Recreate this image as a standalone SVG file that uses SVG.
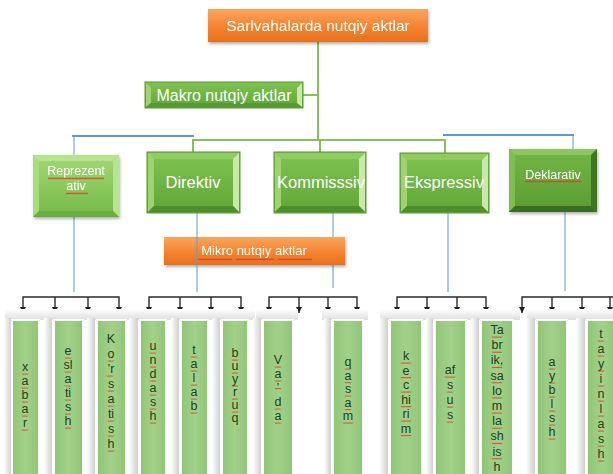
<svg xmlns="http://www.w3.org/2000/svg" width="613" height="474" viewBox="0 0 613 474">
<defs>
  <linearGradient id="gOrange" x1="0" y1="0" x2="0" y2="1">
    <stop offset="0" stop-color="#f9a65e"/>
    <stop offset="0.5" stop-color="#f58634"/>
    <stop offset="1" stop-color="#e8701a"/>
  </linearGradient>
  <linearGradient id="gGreen" x1="0" y1="0" x2="0" y2="1">
    <stop offset="0" stop-color="#80c352"/>
    <stop offset="1" stop-color="#5fa636"/>
  </linearGradient>
  <linearGradient id="gLight" x1="0" y1="0" x2="0" y2="1">
    <stop offset="0" stop-color="#a3d875"/>
    <stop offset="1" stop-color="#74b948"/>
  </linearGradient>
  <linearGradient id="gDark" x1="0" y1="0" x2="0" y2="1">
    <stop offset="0" stop-color="#74b646"/>
    <stop offset="1" stop-color="#5a9c32"/>
  </linearGradient>
  <linearGradient id="gCol" x1="0" y1="0" x2="1" y2="0">
    <stop offset="0" stop-color="#8fc576"/>
    <stop offset="0.5" stop-color="#a2d18a"/>
    <stop offset="1" stop-color="#8fc576"/>
  </linearGradient>
  <linearGradient id="gStrip" x1="0" y1="0" x2="1" y2="0">
    <stop offset="0" stop-color="#ffffff"/>
    <stop offset="1" stop-color="#cfcfcf"/>
  </linearGradient>
  <linearGradient id="gBand" x1="0" y1="0" x2="0" y2="1">
    <stop offset="0" stop-color="#ffffff"/>
    <stop offset="1" stop-color="#dedede"/>
  </linearGradient>
  <pattern id="wv" width="2" height="3" patternUnits="userSpaceOnUse">
    <path d="M0,2.3 L1,0.7 L2,2.3" stroke="#e0392b" stroke-width="0.8" fill="none"/>
  </pattern>
  <path id="w6" class="sq" d="M0,0 l1,1.2 l1,-1.2 l1,1.2 l1,-1.2 l1,1.2 l1,-1.2"/>
  <path id="w10" class="sq" d="M0,0 l1,1.2 l1,-1.2 l1,1.2 l1,-1.2 l1,1.2 l1,-1.2 l1,1.2 l1,-1.2 l1,1.2 l1,-1.2"/>
  <filter id="sh" x="-20%" y="-20%" width="140%" height="150%">
    <feDropShadow dx="1" dy="2" stdDeviation="1.5" flood-color="#000" flood-opacity="0.3"/>
  </filter>
  <marker id="ar" markerWidth="6" markerHeight="6" refX="6" refY="3" orient="auto-start-reverse" markerUnits="userSpaceOnUse" viewBox="0 0 6 6">
    <path d="M0,0 L6,3 L0,6 z" fill="#222"/>
  </marker>
</defs>
<style>
  .t { font-family: "Liberation Sans", Arial, sans-serif; fill: #fff; text-anchor: middle; }
  .l { font-family: "Liberation Sans", Arial, sans-serif; fill: #23401a; font-size: 12.5px; text-anchor: middle; }
  .sq { stroke: #e0392b; stroke-width: 0.8; fill: none; }
  .wv { fill: url(#wv); }
  .gl { stroke: #86c05a; stroke-width: 2; fill: none; }
  .bl { stroke: #5b9bd5; fill: none; }
  .br { stroke: #2a2a2a; stroke-width: 1.4; fill: none; }
  .col { fill: url(#gCol); stroke: #fff; stroke-width: 2; }
  .strip { fill: url(#gStrip); }
  .band { fill: url(#gBand); }
  .bvT { fill: #8fcb60; }
  .bvL { fill: #9ed36f; }
  .bvR { fill: #c9eaa6; }
  .bvB { fill: #4f8f2b; }
</style>

<g id="connectors">
  <line class="gl" x1="318" y1="42" x2="318" y2="140"/>
  <line class="gl" x1="303" y1="95" x2="318" y2="95"/>
  <polyline class="gl" points="193,152 193,140 445,140 445,153"/>
  <line class="gl" x1="320" y1="140" x2="320" y2="152"/>
  <line class="bl" stroke-width="2" x1="72" y1="136" x2="194" y2="136"/>
  <line class="bl" stroke-width="1" x1="74" y1="136" x2="74" y2="155"/>
  <line class="bl" stroke-width="2" x1="443" y1="135" x2="574" y2="135"/>
  <line class="bl" stroke-width="1" x1="573" y1="135" x2="573" y2="149"/>
  <line class="bl" stroke-width="1" x1="74" y1="217" x2="74" y2="292"/>
  <line class="bl" stroke-width="1" x1="333" y1="213" x2="333" y2="288"/>
  <line class="bl" stroke-width="1" x1="448" y1="213" x2="448" y2="292"/>
  <line class="bl" stroke-width="1" x1="565" y1="212" x2="565" y2="291"/>
  <g id="bracket1">
    <polyline class="br" points="23,313 23,297 119,297 119,313" marker-start="url(#ar)" marker-end="url(#ar)"/>
    <line class="br" x1="55" y1="297" x2="55" y2="313" marker-end="url(#ar)"/>
    <line class="br" x1="88" y1="297" x2="88" y2="313" marker-end="url(#ar)"/>
  </g>
  <g id="bracket2">
    <polyline class="br" points="149,313 149,297 241,297 241,313" marker-start="url(#ar)" marker-end="url(#ar)"/>
    <line class="br" x1="180" y1="297" x2="180" y2="313" marker-end="url(#ar)"/>
    <line class="br" x1="211" y1="297" x2="211" y2="313" marker-end="url(#ar)"/>
  </g>
  <g id="bracket3">
    <polyline class="br" points="269,313 269,297 357,297 357,313" marker-start="url(#ar)" marker-end="url(#ar)"/>
    <line class="br" x1="299" y1="297" x2="299" y2="313" marker-end="url(#ar)"/>
    <line class="br" x1="328" y1="297" x2="328" y2="313" marker-end="url(#ar)"/>
  </g>
  <g id="bracket4">
    <polyline class="br" points="397,313 397,297 486,297 486,313" marker-start="url(#ar)" marker-end="url(#ar)"/>
    <line class="br" x1="427" y1="297" x2="427" y2="313" marker-end="url(#ar)"/>
    <line class="br" x1="457" y1="297" x2="457" y2="313" marker-end="url(#ar)"/>
  </g>
  <g id="bracket5">
    <polyline class="br" points="522,313 522,297 620,297" marker-start="url(#ar)"/>
    <line class="br" x1="552" y1="297" x2="552" y2="313" marker-end="url(#ar)"/>
    <line class="br" x1="582" y1="297" x2="582" y2="313" marker-end="url(#ar)"/>
    <line class="br" x1="610" y1="297" x2="610" y2="313" marker-end="url(#ar)"/>
  </g>
</g>

<g id="sarlvaha" filter="url(#sh)">
  <rect x="208" y="9" width="220" height="33" fill="url(#gOrange)"/>
  <text class="t" x="318" y="31" font-size="15.5">Sarlvahalarda nutqiy aktlar</text>
</g>

<g id="makro">
  <rect x="145" y="82" width="158" height="26" fill="url(#gGreen)" stroke="#5a9436" stroke-width="1"/>
  <polygon class="bvL" points="146,83 151,88 151,103 146,107"/>
  <polygon class="bvR" points="302,83 297,88 297,103 302,107"/>
  <polygon class="bvB" points="146,107 302,107 297,103 151,103" opacity="0.6"/>
  <text class="t" x="224" y="101" font-size="16">Makro nutqiy aktlar</text>
</g>

<g id="reprezentativ" filter="url(#sh)">
  <rect x="33" y="155" width="86" height="62" fill="url(#gLight)"/>
  <polygon points="33,155 119,155 113,161 39,161" fill="#b6e28c"/>
  <polygon points="33,155 39,161 39,211 33,217" fill="#a9dc7c"/>
  <polygon points="119,155 119,217 113,211 113,161" fill="#b8e394"/>
  <polygon points="33,217 119,217 113,211 39,211" fill="#6aad3f"/>
  <text class="t" x="76" y="175" font-size="12.5">Reprezent</text>
  <text class="t" x="76" y="190" font-size="12.5">ativ</text>
  <rect class="wv" x="48" y="177" width="56" height="3"/>
  <rect class="wv" x="66" y="192" width="22" height="3"/>
</g>

<g id="direktiv">
  <rect x="147" y="152" width="93" height="61" fill="url(#gGreen)" stroke="#5a9436"/>
  <polygon class="bvT" points="148,153 239,153 233,159 154,159"/>
  <polygon class="bvL" points="148,153 154,159 154,206 148,212"/>
  <polygon class="bvR" points="239,153 239,212 233,206 233,159"/>
  <polygon class="bvB" points="148,212 239,212 233,206 154,206"/>
  <text class="t" x="193" y="188" font-size="16.5">Direktiv</text>
</g>

<g id="kommisssiv">
  <rect x="274" y="152" width="92" height="61" fill="url(#gGreen)" stroke="#5a9436"/>
  <polygon class="bvT" points="275,153 365,153 359,159 281,159"/>
  <polygon class="bvL" points="275,153 281,159 281,206 275,212"/>
  <polygon class="bvR" points="365,153 365,212 359,206 359,159"/>
  <polygon class="bvB" points="275,212 365,212 359,206 281,206"/>
  <text class="t" x="321" y="188" font-size="16.5">Kommisssiv</text>
</g>

<g id="ekspressiv">
  <rect x="400" y="153" width="89" height="60" fill="url(#gGreen)" stroke="#5a9436"/>
  <polygon class="bvT" points="401,154 488,154 482,160 407,160"/>
  <polygon class="bvL" points="401,154 407,160 407,206 401,212"/>
  <polygon class="bvR" points="488,154 488,212 482,206 482,160"/>
  <polygon class="bvB" points="401,212 488,212 482,206 407,206"/>
  <text class="t" x="444" y="188" font-size="16.5">Ekspressiv</text>
</g>

<g id="deklarativ" filter="url(#sh)">
  <rect x="509" y="149" width="88" height="63" fill="url(#gDark)"/>
  <polygon points="509,149 597,149 591,155 515,155" fill="#8dc65e"/>
  <polygon points="509,149 515,155 515,206 509,212" fill="#7fbd52"/>
  <polygon points="597,149 597,212 591,206 591,155" fill="#3f7425"/>
  <polygon points="509,212 597,212 591,206 515,206" fill="#3b6c22"/>
  <text class="t" x="553" y="179" font-size="12.5">Deklarativ</text>
  <rect class="wv" x="525" y="180" width="57" height="3"/>
</g>

<g id="mikro" filter="url(#sh)">
  <rect x="164" y="237" width="181" height="28" fill="url(#gOrange)"/>
  <text class="t" x="254" y="255" font-size="13">Mikro nutqiy aktlar</text>
  <rect class="wv" x="198" y="258" width="34" height="3"/>
  <rect class="wv" x="236" y="258" width="38" height="3"/>
  <rect class="wv" x="278" y="258" width="34" height="3"/>
</g>
<line class="bl" stroke-width="1" x1="197" y1="213" x2="197" y2="292"/>

<g id="columnsBg">
  <rect class="band" x="5" y="309" width="128" height="11"/>
  <rect class="band" x="133" y="309" width="122" height="11"/>
  <rect class="band" x="256" y="309" width="42" height="11"/>
  <rect class="band" x="322" y="309" width="46" height="11"/>
  <rect class="band" x="380" y="309" width="140" height="11"/>
  <rect class="band" x="527" y="309" width="86" height="11"/>
  <rect class="strip" x="4" y="318" width="7" height="156"/>
  <rect class="strip" x="44" y="318" width="8" height="156"/>
  <rect class="strip" x="87" y="318" width="8" height="156"/>
  <rect class="strip" x="129" y="318" width="9" height="156"/>
  <rect class="strip" x="171" y="318" width="8" height="156"/>
  <rect class="strip" x="212" y="318" width="8" height="156"/>
  <rect class="strip" x="253" y="318" width="8" height="156"/>
  <rect class="strip" x="324" y="318" width="7" height="156"/>
  <rect class="strip" x="379" y="318" width="9" height="156"/>
  <rect class="strip" x="426" y="318" width="7" height="156"/>
  <rect class="strip" x="471" y="318" width="8" height="156"/>
  <rect class="strip" x="526" y="318" width="9" height="156"/>
  <rect class="strip" x="576" y="318" width="9" height="156"/>
</g>

<g id="col-xabar"><rect class="col" x="12" y="320" width="27" height="160"/>
  <text class="l"><tspan x="25" y="371">x</tspan><tspan x="25" dy="14">a</tspan><tspan x="25" dy="14">b</tspan><tspan x="25" dy="14">a</tspan><tspan x="25" dy="14">r</tspan></text>
  <g transform="translate(22,0)"><use href="#w6" y="373.5"/><use href="#w6" y="387.5"/><use href="#w6" y="401.5"/><use href="#w6" y="415.5"/><use href="#w6" y="429.5"/></g></g>
<g id="col-eslatish"><rect class="col" x="54" y="320" width="29" height="160"/>
  <text class="l"><tspan x="68" y="355">e</tspan><tspan x="68" dy="14">sl</tspan><tspan x="68" dy="14">a</tspan><tspan x="68" dy="14">ti</tspan><tspan x="68" dy="14">s</tspan><tspan x="68" dy="14">h</tspan></text>
  <g transform="translate(65,0)"><use href="#w6" y="357.5"/><use href="#w6" y="371.5"/><use href="#w6" y="385.5"/><use href="#w6" y="399.5"/><use href="#w6" y="413.5"/><use href="#w6" y="427.5"/></g></g>
<g id="col-korsatish"><rect class="col" x="97" y="320" width="29" height="160"/>
  <text class="l"><tspan x="111" y="343">K</tspan><tspan x="111" dy="15">o</tspan><tspan x="111" dy="15">’r</tspan><tspan x="111" dy="15">s</tspan><tspan x="111" dy="15">a</tspan><tspan x="111" dy="15">ti</tspan><tspan x="111" dy="15">s</tspan><tspan x="111" dy="15">h</tspan></text>
  <g transform="translate(108,0)"><use href="#w6" y="360.5"/><use href="#w6" x="-1" y="375.5"/><use href="#w6" y="390.5"/><use href="#w6" y="405.5"/><use href="#w6" y="420.5"/><use href="#w6" y="435.5"/><use href="#w6" y="450.5"/></g></g>
<g id="col-undash"><rect class="col" x="140" y="320" width="26" height="160"/>
  <text class="l"><tspan x="153" y="350">u</tspan><tspan x="153" dy="14">n</tspan><tspan x="153" dy="14">d</tspan><tspan x="153" dy="14">a</tspan><tspan x="153" dy="14">s</tspan><tspan x="153" dy="14">h</tspan></text>
  <g transform="translate(150,0)"><use href="#w6" y="352.5"/><use href="#w6" y="366.5"/><use href="#w6" y="380.5"/><use href="#w6" y="394.5"/><use href="#w6" y="408.5"/><use href="#w6" y="422.5"/></g></g>
<g id="col-talab"><rect class="col" x="181" y="320" width="27" height="160"/>
  <text class="l"><tspan x="194" y="354">t</tspan><tspan x="194" dy="14">a</tspan><tspan x="194" dy="14">l</tspan><tspan x="194" dy="14">a</tspan><tspan x="194" dy="14">b</tspan></text>
  <g transform="translate(191,0)"><use href="#w6" y="356.5"/><use href="#w6" y="370.5"/><use href="#w6" y="384.5"/><use href="#w6" y="398.5"/><use href="#w6" y="412.5"/></g></g>
<g id="col-buyruq"><rect class="col" x="222" y="320" width="26" height="160"/>
  <text class="l"><tspan x="235" y="357">b</tspan><tspan x="235" dy="13">u</tspan><tspan x="235" dy="13">y</tspan><tspan x="235" dy="13">r</tspan><tspan x="235" dy="13">u</tspan><tspan x="235" dy="13">q</tspan></text>
  <g transform="translate(232,0)"><use href="#w6" y="359.5"/><use href="#w6" y="372.5"/><use href="#w6" y="385.5"/><use href="#w6" y="398.5"/><use href="#w6" y="411.5"/></g></g>
<g id="col-vada"><rect class="col" x="263" y="320" width="30" height="160"/>
  <text class="l"><tspan x="278" y="364">V</tspan><tspan x="278" dy="14">a</tspan><tspan x="278" dy="14">’</tspan><tspan x="278" dy="14">d</tspan><tspan x="278" dy="14">a</tspan></text>
  <g transform="translate(275,0)"><use href="#w6" y="366.5"/><use href="#w6" y="380.5"/><use href="#w6" y="388"/><use href="#w6" y="408.5"/><use href="#w6" y="422.5"/></g></g>
<g id="col-qasam"><rect class="col" x="333" y="320" width="30" height="160"/>
  <text class="l"><tspan x="348" y="366">q</tspan><tspan x="348" dy="13.5">a</tspan><tspan x="348" dy="13.5">s</tspan><tspan x="348" dy="13.5">a</tspan><tspan x="348" dy="13.5">m</tspan></text>
  <g transform="translate(345,0)"><use href="#w6" y="368.5"/><use href="#w6" y="382"/><use href="#w6" y="395.5"/><use href="#w6" y="409"/><use href="#w10" x="-2" y="422.5"/></g></g>
<g id="col-kechirim"><rect class="col" x="390" y="320" width="32" height="160"/>
  <text class="l"><tspan x="406" y="360">k</tspan><tspan x="406" dy="14.5">e</tspan><tspan x="406" dy="14.5">c</tspan><tspan x="406" dy="14.5">hi</tspan><tspan x="406" dy="14.5">ri</tspan><tspan x="406" dy="14.5">m</tspan></text>
  <g transform="translate(401,0)"><use href="#w10" x="0" y="362.5"/><use href="#w10" y="377"/><use href="#w10" y="391.5"/><use href="#w10" y="406"/><use href="#w10" y="420.5"/><use href="#w10" y="435"/></g></g>
<g id="col-afsus"><rect class="col" x="435" y="320" width="31" height="160"/>
  <text class="l"><tspan x="450" y="374">af</tspan><tspan x="450" dy="15">s</tspan><tspan x="450" dy="15">u</tspan><tspan x="450" dy="15">s</tspan></text>
  <g transform="translate(445,0)"><use href="#w10" y="376.5"/><use href="#w6" x="2" y="391.5"/><use href="#w6" x="2" y="406.5"/><use href="#w6" x="2" y="421.5"/></g></g>
<g id="col-tabrik"><rect class="col" x="481" y="320" width="32" height="160"/>
  <text class="l"><tspan x="497" y="334">Ta</tspan><tspan x="497" dy="15.2">br</tspan><tspan x="497" dy="15.2">ik,</tspan><tspan x="497" dy="15.2">sa</tspan><tspan x="497" dy="15.2">lo</tspan><tspan x="497" dy="15.2">m</tspan><tspan x="497" dy="15.2">la</tspan><tspan x="497" dy="15.2">sh</tspan><tspan x="497" dy="15.2">is</tspan><tspan x="497" dy="15.2">h</tspan></text>
  <g transform="translate(492,0)"><use href="#w10" y="336.5"/><use href="#w10" y="351.7"/><use href="#w10" y="366.9"/><use href="#w10" y="382.1"/><use href="#w10" y="397.3"/><use href="#w10" y="412.5"/><use href="#w10" y="427.7"/><use href="#w10" y="442.9"/><use href="#w10" y="458.1"/></g></g>
<g id="col-ayblash"><rect class="col" x="537" y="320" width="30" height="160"/>
  <text class="l"><tspan x="552" y="366">a</tspan><tspan x="552" dy="14">y</tspan><tspan x="552" dy="14">b</tspan><tspan x="552" dy="14">l</tspan><tspan x="552" dy="14">s</tspan><tspan x="552" dy="14">h</tspan></text>
  <g transform="translate(549,0)"><use href="#w6" y="368.5"/><use href="#w6" y="382.5"/><use href="#w6" y="396.5"/><use href="#w6" y="410.5"/><use href="#w6" y="424.5"/><use href="#w6" y="438.5"/></g></g>
<g id="col-tayinlash"><rect class="col" x="587" y="320" width="30" height="160"/>
  <text class="l"><tspan x="601" y="338">t</tspan><tspan x="601" dy="15">a</tspan><tspan x="601" dy="15">y</tspan><tspan x="601" dy="15">i</tspan><tspan x="601" dy="15">n</tspan><tspan x="601" dy="15">l</tspan><tspan x="601" dy="15">a</tspan><tspan x="601" dy="15">s</tspan><tspan x="601" dy="15">h</tspan></text>
  <g transform="translate(598,0)"><use href="#w6" y="340.5"/><use href="#w6" y="355.5"/><use href="#w6" y="370.5"/><use href="#w6" y="385.5"/><use href="#w6" y="400.5"/><use href="#w6" y="415.5"/><use href="#w6" y="430.5"/><use href="#w6" y="445.5"/><use href="#w6" y="460.5"/></g></g>
</svg>
